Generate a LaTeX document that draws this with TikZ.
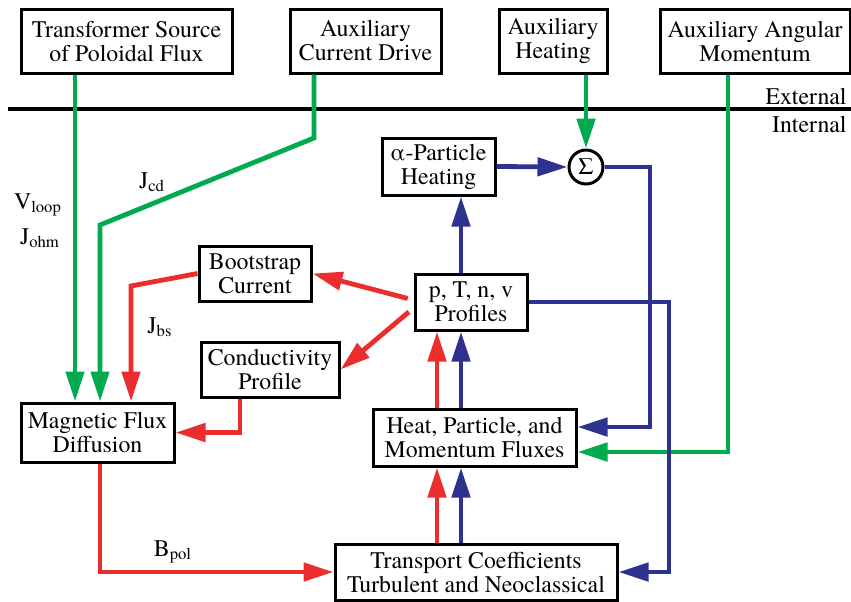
\documentclass[tikz,border=0pt]{standalone}
\usepackage{fontspec}
\setmainfont{TeX Gyre Termes}
\usetikzlibrary{arrows.meta}
\definecolor{fgreen}{RGB}{0,170,78}
\definecolor{fred}{RGB}{236,45,46}
\definecolor{fblue}{RGB}{45,50,145}
\begin{document}
\begin{tikzpicture}[x=0.5pt, y=-0.5pt,
                    font=\rmfamily\fontsize{11.9}{12}\selectfont,
                    box/.style={draw, line width=1.5pt, align=center, inner sep=0pt},
                    flow/.style={line width=2.4pt, -{Triangle[length=15pt,width=9pt]}},
                    garrow/.style={flow, fgreen},
                    rarrow/.style={flow, fred},
                    barrow/.style={flow, fblue}]
\useasboundingbox (0,0) rectangle (851,601);
% external sources
\node[box, minimum width=105.5pt, minimum height=32pt] (trans) at (126.5,41) {Transformer Source\\of Poloidal Flux};
\node[box, minimum width=75.5pt, minimum height=32pt] (acd) at (365.5,41) {Auxiliary\\Current Drive};
\node[box, minimum width=54pt, minimum height=32pt] (aheat) at (553,41) {Auxiliary\\Heating};
\node[box, minimum width=95pt, minimum height=32pt] (aang) at (755,41) {Auxiliary Angular\\Momentum};
\draw[line width=2.3pt] (8,109) -- (851,109);
\node[anchor=east, inner sep=0pt] (ext) at (847,96) {External};
\node[anchor=east, inner sep=0pt] (int) at (847,124) {Internal};
% internal blocks
\node[box, minimum width=56.5pt, minimum height=28.5pt] (alpha) at (438.5,166.5) {α-Particle\\Heating};
\node[draw, circle, line width=1.5pt, minimum size=17pt, inner sep=0pt] (sum) at (586,167) {Σ};
\node[box, minimum width=56pt, minimum height=27.5pt] (boot) at (255,273.5) {Bootstrap\\Current};
\node[box, minimum width=56pt, minimum height=28pt] (prof) at (471,302) {p, T, n, v\\Profiles};
\node[box, minimum width=69pt, minimum height=27.5pt] (cond) at (270,369.5) {Conductivity\\Profile};
\node[box, minimum width=76.5pt, minimum height=29.5pt] (mag) at (97.5,432.5) {Magnetic Flux\\Diffusion};
\node[box, minimum width=101.5pt, minimum height=28.5pt] (heat) at (474.5,437.5) {Heat, Particle, and\\Momentum Fluxes};
\node[box, minimum width=141pt, minimum height=28pt] (tcoef) at (476,572) {Transport Coefficients\\Turbulent and Neoclassical};
% columns of the connectors
\coordinate (cv) at (75,0);
\coordinate (ccd) at (100,0);
\coordinate (ccdk) at (314,138);
\coordinate (ccdj) at (100,225);
\coordinate (cbs) at (131,286);
\coordinate (ccs) at (240,0);
\coordinate (cam) at (728,0);
\coordinate (csum) at (650,0);
\coordinate (cpr) at (669,0);
\coordinate (cr) at (437,0);
\coordinate (cb) at (461,0);
\coordinate (hin) at ([yshift=5.25pt]heat.east);
% green: external drives
\draw[garrow] (trans.south -| cv) -- (mag.north -| cv);
\draw[garrow] (acd.south -| ccdk) -- (ccdk) -- (ccdj) -- (mag.north -| ccd);
\draw[garrow] (aheat.south -| sum.north) -- (sum.north);
\draw[garrow] (aang.south -| cam) |- ([yshift=-7.25pt]heat.east);
% blue: heating and transport loop
\draw[barrow] (alpha.east) -- (sum.west);
\draw[barrow] (sum.east) -| (csum |- hin) -- (hin);
\draw[barrow] (prof.north -| cb) -- (alpha.south -| cb);
\draw[barrow] (prof.east) -| (cpr |- tcoef.east) -- (tcoef.east);
\draw[barrow] (heat.north -| cb) -- (prof.south -| cb);
\draw[barrow] (tcoef.north -| cb) -- (heat.south -| cb);
% red: current and field
\draw[rarrow] (heat.north -| cr) -- (prof.south -| cr);
\draw[rarrow] (tcoef.north -| cr) -- (heat.south -| cr);
\draw[rarrow, shorten <=3pt] ([yshift=1pt]prof.west) -- (boot.east);
\draw[rarrow, shorten <=3pt] ([yshift=-3pt]prof.west) -- (cond.east);
\draw[rarrow] (boot.west) -- (cbs) -- (mag.north -| cbs);
\draw[rarrow] (cond.south -| ccs) |- (mag.east);
\draw[rarrow] (mag.south -| ccd) |- (tcoef.west);
% labels
\node (vloop) at (38,205) {V\textsubscript{loop}};
\node (johm) at (40,238) {J\textsubscript{ohm}};
\node (jcd) at (152,182) {J\textsubscript{cd}};
\node (jbs) at (160,327) {J\textsubscript{bs}};
\node (bpol) at (173,552) {B\textsubscript{pol}};
\end{tikzpicture}
\end{document}
